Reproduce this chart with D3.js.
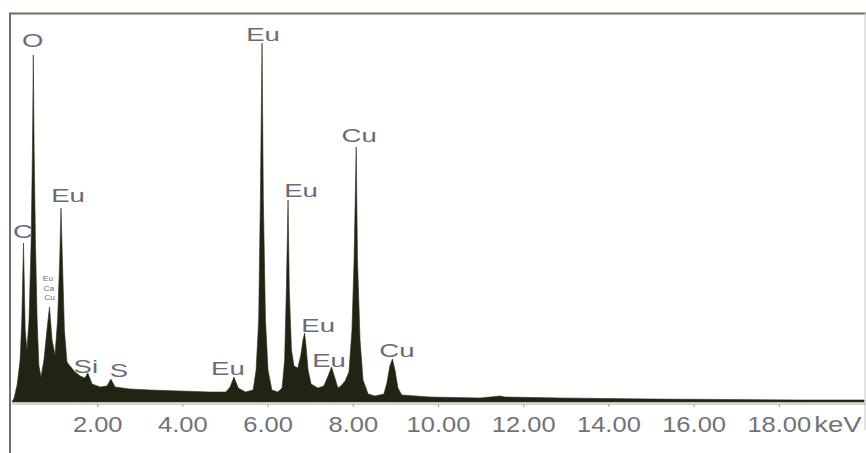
<!DOCTYPE html>
<html>
<head>
<meta charset="utf-8">
<script src="https://cdn.jsdelivr.net/npm/d3@7/dist/d3.min.js"></script>
<style>
  html, body { margin: 0; padding: 0; background: #ffffff; }
  svg { display: block; }
</style>
</head>
<body>
<svg id="chart" width="866" height="453"></svg>
<script>
// EDS spectrum outline: energy (keV) and counts
const energyKeV = [
  0.00, 0.05, 0.12, 0.19, 0.23, 0.27, 0.31, 0.35, 0.40, 0.45, 0.48, 0.50, 0.52, 0.55, 0.59, 0.63,
  0.68, 0.75, 0.82, 0.88, 0.94, 1.01, 1.07, 1.12, 1.15, 1.19, 1.23, 1.29, 1.36, 1.48, 1.60, 1.71,
  1.78, 1.88, 2.07, 2.23, 2.32, 2.42, 2.77, 3.24, 3.94, 4.65, 5.02, 5.12, 5.21, 5.31, 5.48, 5.66,
  5.73, 5.79, 5.83, 5.87, 5.90, 5.95, 6.01, 6.10, 6.24, 6.34, 6.40, 6.44, 6.48, 6.51, 6.56, 6.62,
  6.71, 6.78, 6.83, 6.87, 6.90, 6.95, 7.02, 7.18, 7.32, 7.42, 7.50, 7.58, 7.65, 7.72, 7.82, 7.91,
  7.98, 8.03, 8.08, 8.11, 8.17, 8.24, 8.36, 8.52, 8.73, 8.80, 8.87, 8.93, 8.99, 9.06, 9.15, 9.81,
  10.99, 11.46, 11.57, 12.86, 14.98, 18.50, 20.00
];
const counts = [
  0, 40, 170, 420, 820, 1590, 720, 520, 820, 1620, 2520, 3470, 2520, 1620, 820, 370,
  250, 420, 720, 950, 620, 470, 820, 1420, 1940, 1320, 720, 400, 360, 300, 260, 240,
  290, 180, 150, 160, 230, 150, 130, 120, 110, 100, 100, 150, 250, 140, 100, 120,
  320, 820, 2020, 3590, 2020, 820, 320, 120, 100, 140, 420, 1120, 2020, 1120, 520, 360,
  340, 470, 620, 690, 570, 320, 180, 140, 160, 260, 350, 240, 140, 160, 210, 300,
  720, 1420, 2550, 1420, 620, 220, 80, 60, 80, 190, 360, 430, 320, 140, 70, 50,
  40, 60, 50, 40, 30, 20, 20
];

// Identified lines: label and line energy (keV)
const peakNames = ["O", "C", "Eu", "Si", "S", "Eu", "Eu", "Eu", "Eu", "Eu", "Cu", "Cu"];
const peakKeV   = [0.50, 0.27, 1.15, 1.78, 2.32, 5.21, 5.87, 6.48, 6.87, 7.50, 8.08, 8.93];

// Minor lines marked together on the shoulder near 0.9 keV
const minorNames = ["Eu", "Ca", "Cu"];

const tickValues = [2, 4, 6, 8, 10, 12, 14, 16, 18];
const unitLabel = "keV";

// ---- layout ----
const svg = d3.select("#chart");
const x = d3.scaleLinear().domain([0, 20]).range([12, 864]);
const y = d3.scaleLinear().domain([0, 3600]).range([402, 42]);

// label offsets (px) from each peak tip
const labelOffsets = [
  [-0.5, -8], [-0.5, -5], [7, -6], [-2, 0], [8, -2], [-6, -2],
  [1, -2], [13, -3], [13.5, -1], [-2.5, 0], [3, -5], [4.5, -2]
];

const spectrum = energyKeV.map((e, i) => ({ e, c: counts[i] }));
const countAt = e => counts[energyKeV.indexOf(e)];

// frame
svg.append("line").attr("x1", 10).attr("x2", 10).attr("y1", 13).attr("y2", 453)
  .attr("stroke", "#707070").attr("stroke-width", 2);
svg.append("line").attr("x1", 9).attr("x2", 866).attr("y1", 13.5).attr("y2", 13.5)
  .attr("stroke", "#6f6f5c").attr("stroke-width", 2);
svg.append("line").attr("x1", 865).attr("x2", 865).attr("y1", 13).attr("y2", 430)
  .attr("stroke", "#c8c8c8").attr("stroke-width", 1);

// spectrum area
const area = d3.area()
  .x(d => x(d.e))
  .y0(y(0))
  .y1(d => y(d.c))
  .curve(d3.curveLinear);

svg.append("path")
  .datum(spectrum)
  .attr("d", area)
  .attr("fill", "#1f2512")
  .attr("stroke", "#2a2f1c")
  .attr("stroke-width", 0.6)
  .attr("stroke-linejoin", "round");

// energy axis
const axis = d3.axisBottom(x)
  .tickValues(tickValues)
  .tickFormat(d3.format(".2f"))
  .tickSize(3)
  .tickSizeOuter(0);

const gx = svg.append("g")
  .attr("transform", `translate(0, 404)`)
  .call(axis);

gx.select(".domain").attr("stroke", "#a8a8a8").attr("stroke-width", 1)
  .attr("d", `M${x(0)},0H866`);
gx.selectAll(".tick line").attr("stroke", "#a0a0a0");
gx.selectAll(".tick text")
  .attr("fill", "#727277")
  .attr("font-family", "Liberation Sans, Arial, sans-serif")
  .attr("font-size", 22)
  .attr("y", 28)
  .attr("dy", 0)
  .attr("transform", "scale(1.16,1)");

svg.append("text")
  .attr("transform", `translate(838,432) scale(1.25,1)`)
  .attr("text-anchor", "middle")
  .attr("fill", "#727277")
  .attr("font-family", "Liberation Sans, Arial, sans-serif")
  .attr("font-size", 22)
  .text(unitLabel);

// peak labels
svg.append("g").selectAll("text")
  .data(peakNames)
  .join("text")
  .attr("transform", (d, i) => {
    const px = x(peakKeV[i]) + labelOffsets[i][0];
    const py = y(countAt(peakKeV[i])) + labelOffsets[i][1];
    return `translate(${px},${py}) scale(1.45,1)`;
  })
  .attr("text-anchor", "middle")
  .attr("fill", "#6c6a74")
  .attr("font-family", "Liberation Sans, Arial, sans-serif")
  .attr("font-size", 19)
  .text(d => d);

// stacked minor labels above the 0.88 keV shoulder
const minorBase = y(countAt(0.88));
svg.append("g").selectAll("text")
  .data(minorNames)
  .join("text")
  .attr("transform", (d, i) => `translate(${x(0.88) - 1.5 + i * 0.8},${minorBase - 26 + i * 9.5}) scale(1.2,1)`)
  .attr("text-anchor", "middle")
  .attr("fill", "#6c6a74")
  .attr("font-family", "Liberation Sans, Arial, sans-serif")
  .attr("font-size", 7)
  .text(d => d);
</script>
</body>
</html>
